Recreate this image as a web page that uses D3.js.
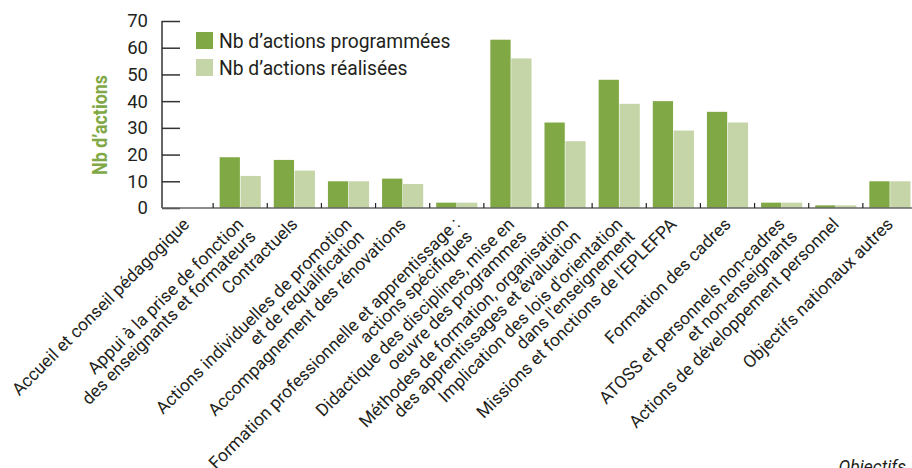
<!DOCTYPE html>
<html>
<head>
<meta charset="utf-8">
<script src="https://cdn.jsdelivr.net/npm/d3@7"></script>
<style>
  body { margin: 0; background: #fff; }
  svg { display: block; font-family: Roboto, "Liberation Sans", sans-serif; }
</style>
</head>
<body>
<div class="chart"></div>
<script>
// Chart data
const categories = [
  "Accueil et conseil pédagogique",
  "Appui à la prise de fonction|des enseignants et formateurs",
  "Contractuels",
  "Actions individuelles de promotion|et de requalification",
  "Accompagnement des rénovations",
  "Formation professionnelle et apprentissage :|actions spécifiques",
  "Didactique des disciplines, mise en|oeuvre des programmes",
  "Méthodes de formation, organisation|des apprentissages et évaluation",
  "Implication des lois d'orientation|dans l'enseignement",
  "Missions et fonctions de l'EPLEFPA",
  "Formation des cadres",
  "ATOSS et personnels non-cadres|et non-enseignants",
  "Actions de développement personnel",
  "Objectifs nationaux autres"
];
const seriesNames = ["Nb d’actions programmées", "Nb d’actions réalisées"];
const programmees = [0, 19, 18, 10, 11, 2, 63, 32, 48, 40, 36, 2, 1, 10];
const realisees   = [0, 12, 14, 10, 9, 2, 56, 25, 39, 29, 32, 2, 1, 10];
const yTicks = [0, 10, 20, 30, 40, 50, 60, 70];

const width = 912;
const height = 468;
const colors = ["#80a844", "#c6d5a8"];
const textColor = "#231f20";

const svg = d3.select(".chart")
  .append("svg")
  .attr("width", width)
  .attr("height", height);

// Scales
const x = d3.scaleBand()
  .domain(d3.range(categories.length))
  .range([159, 917]);

const xSub = d3.scaleBand()
  .domain(d3.range(seriesNames.length))
  .range([6.5, x.bandwidth() - 6.5])
  .paddingInner(0.03);

const y = d3.scaleLinear()
  .domain([0, 70])
  .range([208, 21]);

// Bars
const values = [programmees, realisees];
values.forEach(function(vals, s) {
  svg.append("g")
    .selectAll("rect")
    .data(vals)
    .join("rect")
    .attr("x", (d, i) => x(i) + xSub(s))
    .attr("y", d => y(d))
    .attr("width", xSub.bandwidth())
    .attr("height", d => y(0) - y(d))
    .attr("fill", colors[s]);
});

// Y axis (ticks pointing inward)
const yAxis = svg.append("g")
  .attr("transform", "translate(162,0)")
  .call(d3.axisRight(y).tickValues(yTicks).tickSize(18).tickFormat(d3.format("d")));
yAxis.select(".domain").attr("d", `M0,${y(70)}V${y(0)}`).attr("stroke", "#333").attr("stroke-width", 1.5);
yAxis.selectAll(".tick line").attr("stroke", "#333").attr("stroke-width", 1.5);
yAxis.selectAll(".tick text")
  .attr("x", -14)
  .attr("text-anchor", "end")
  .attr("font-size", 18.5)
  .attr("font-family", "Roboto, sans-serif")
  .attr("fill", textColor);

// X baseline and small boundary ticks
svg.append("line")
  .attr("x1", 162).attr("x2", width)
  .attr("y1", y(0)).attr("y2", y(0))
  .attr("stroke", "#666").attr("stroke-width", 1.5);

svg.append("g")
  .selectAll("line")
  .data(d3.range(1, categories.length))
  .join("line")
  .attr("x1", d => x(d)).attr("x2", d => x(d))
  .attr("y1", y(0)).attr("y2", y(0) - 5)
  .attr("stroke", "#222").attr("stroke-width", 1.2);

// X labels, rotated
const labels = svg.append("g")
  .selectAll("text")
  .data(categories)
  .join("text")
  .attr("transform", (d, i) => `translate(${x(i) + x.bandwidth() / 2},${y(0) + 13}) rotate(-45)`)
  .attr("text-anchor", "end")
  .attr("font-size", 17.5)
  .attr("fill", textColor);

labels.selectAll("tspan")
  .data(d => d.split("|"))
  .join("tspan")
  .attr("x", 0)
  .attr("dy", (d, i) => i === 0 ? "0.35em" : "1.0em")
  .text(d => d);

// Y title
svg.append("text")
  .attr("transform", "translate(107,125) rotate(-90)")
  .attr("text-anchor", "middle")
  .attr("font-weight", "bold")
  .attr("font-size", 21)
  .attr("textLength", 100)
  .attr("lengthAdjust", "spacingAndGlyphs")
  .attr("fill", "#80a844")
  .text("Nb d’actions");

// Legend
const legend = svg.append("g")
  .selectAll("g")
  .data(seriesNames)
  .join("g")
  .attr("transform", (d, i) => `translate(196,${32 + i * 27})`);

legend.append("rect")
  .attr("width", 17).attr("height", 17)
  .attr("fill", (d, i) => colors[i]);

legend.append("text")
  .attr("x", 23).attr("y", 16)
  .attr("font-size", 19.3)
  .attr("fill", textColor)
  .text(d => d);

// Axis caption at the bottom right (cut by the edge, as in the source)
svg.append("text")
  .attr("x", 906).attr("y", 473)
  .attr("text-anchor", "end")
  .attr("font-style", "italic")
  .attr("font-size", 17.5)
  .attr("fill", textColor)
  .text("Objectifs");
</script>
</body>
</html>
